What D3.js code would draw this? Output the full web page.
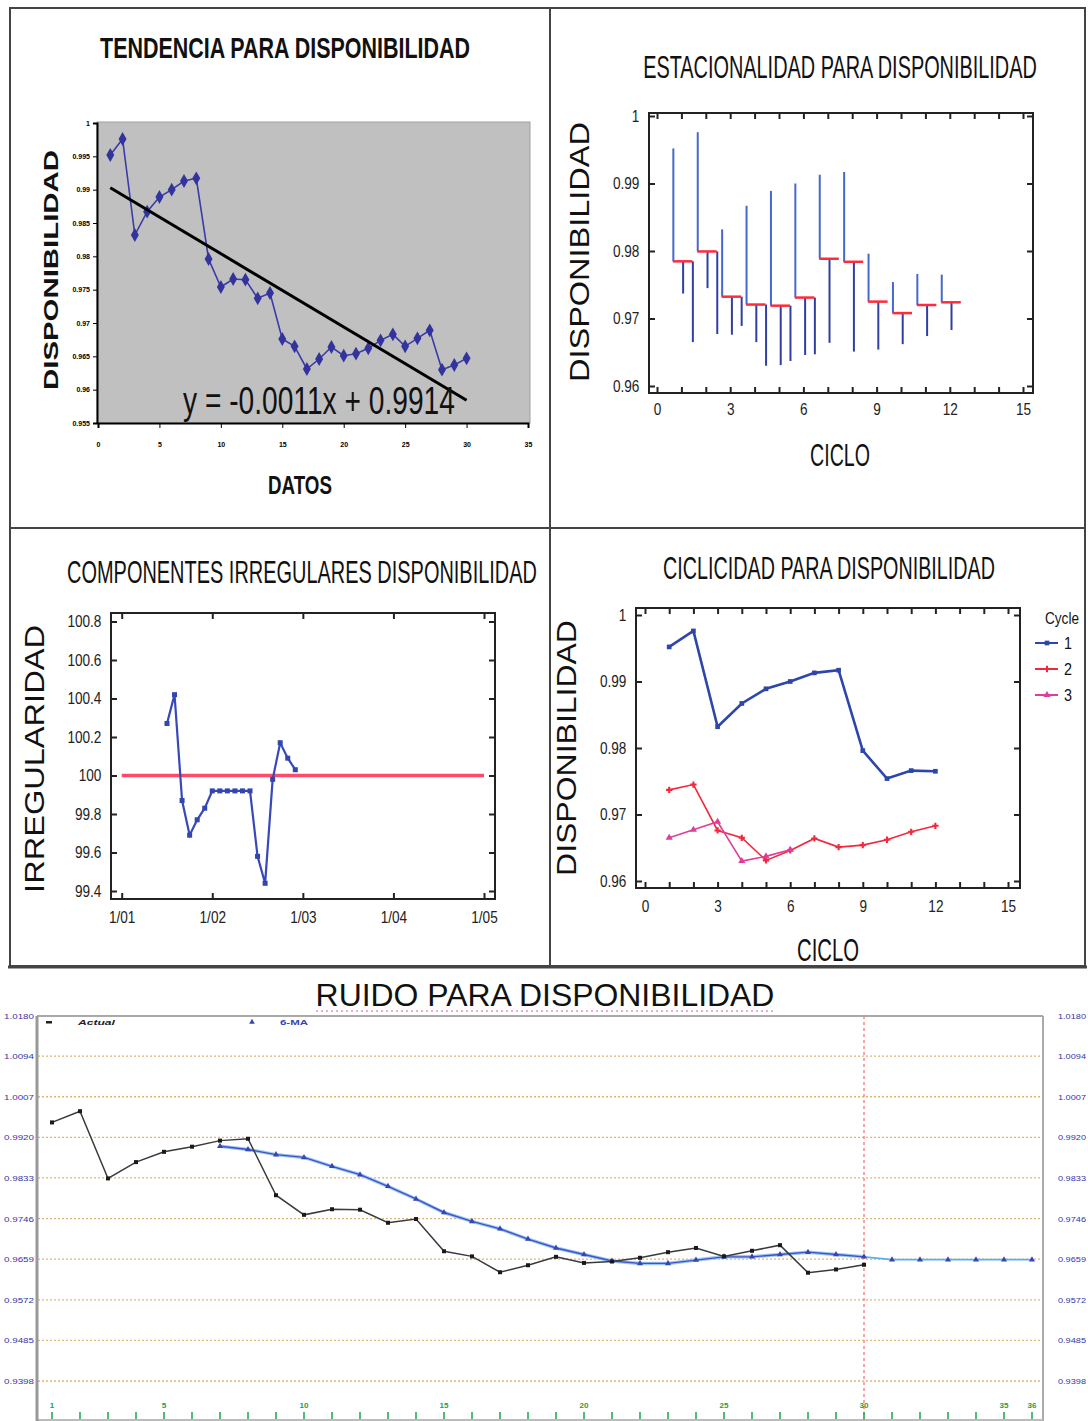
<!DOCTYPE html>
<html>
<head>
<meta charset="utf-8">
<script src="https://cdn.jsdelivr.net/npm/d3@7"></script>
<style>
  body { margin: 0; background: #fff; }
  svg { display: block; }
</style>
</head>
<body>
<script>
// ---------------- data ----------------
// disponibilidad mensual, 30 datos (3 ciclos de 12, el ultimo incompleto)
const disponibilidad = [0.9952, 0.9976, 0.9832, 0.9867, 0.9889, 0.9900, 0.9913, 0.9917, 0.9796, 0.9754, 0.9766, 0.9765,
                        0.9737, 0.9745, 0.9676, 0.9665, 0.9631, 0.9646, 0.9664, 0.9651, 0.9654, 0.9662, 0.9674, 0.9683,
                        0.9665, 0.9677, 0.9689, 0.9630, 0.9637, 0.9647]
const trendSlope = -0.0011
const trendIntercept = 0.9914
const tendYTicks = [1, 0.995, 0.99, 0.985, 0.98, 0.975, 0.97, 0.965, 0.96, 0.955]
const tendXTicks = [0, 5, 10, 15, 20, 25, 30, 35]

const cicloTicks = [0, 3, 6, 9, 12, 15]
const dispTicks = [0.96, 0.97, 0.98, 0.99, 1]
const cycleNames = ['1', '2', '3']
const cycleLen = 12

// componente irregular (meses 7..24)
const irregular = [100.27, 100.42, 99.87, 99.69, 99.77, 99.83, 99.92, 99.92, 99.92, 99.92, 99.92, 99.92,
                   99.58, 99.44, 99.98, 100.17, 100.09, 100.03]
const irregStartMonth = 7
const irregYTicks = [99.4, 99.6, 99.8, 100, 100.2, 100.4, 100.6, 100.8]
const irregXLabels = ['1/01', '1/02', '1/03', '1/04', '1/05']

// ruido: media movil de 6 (periodos 7..36, desde 31 es pronostico)
const ma6 = [0.9901, 0.9894, 0.9883, 0.9877, 0.9858, 0.9840, 0.9815, 0.9788, 0.9759, 0.9740, 0.9724, 0.9702,
             0.9683, 0.9669, 0.9655, 0.9650, 0.9650, 0.9657, 0.9664, 0.9664, 0.9669, 0.9674, 0.9669, 0.9664,
             0.9658, 0.9658, 0.9658, 0.9658, 0.9658, 0.9658]
const maStart = 7
const lastActual = 30
const ruidoYTicks = [1.0180, 1.0094, 1.0007, 0.9920, 0.9833, 0.9746, 0.9659, 0.9572, 0.9485, 0.9398]
const ruidoXLabels = [1, 5, 10, 15, 20, 25, 30, 35, 36]
const ruidoPeriods = d3.range(1, 37)

// ---------------- setup ----------------
const W = 1088, H = 1421
const FONT = '"Liberation Sans", Arial, sans-serif'
const svg = d3.select('body').append('svg').attr('width', W).attr('height', H)
  .attr('font-family', FONT)
svg.append('rect').attr('width', W).attr('height', H).attr('fill', '#fff')

// text squeezed to a given width (narrow look of the original)
function label(g, txt, x, y, size, len, o = {}) {
  let t = g.append('text').attr('font-size', size)
    .attr('text-anchor', o.anchor || 'middle').attr('fill', o.fill || '#111').text(txt)
  if (o.bold) t.attr('font-weight', 'bold')
  if (o.italic) t.attr('font-style', 'italic')
  let sx = len ? len / t.node().getComputedTextLength() : 1
  t.attr('transform', `translate(${x},${y})` + (o.rotate ? ' rotate(-90)' : '') + ` scale(${sx},1)`)
  return t
}

// boxed plot with ticks pointing inwards on all four sides
function boxAxes(g, box, x, y, o) {
  g.append('rect').attr('x', box.x0).attr('y', box.y0)
    .attr('width', box.x1 - box.x0).attr('height', box.y1 - box.y0)
    .attr('fill', 'none').attr('stroke', '#222').attr('stroke-width', 2)
  let axes = [
    g.append('g').attr('transform', `translate(0,${box.y1})`)
      .call(d3.axisBottom(x).tickValues(o.xTicks).tickSizeInner(-o.tick).tickSizeOuter(0).tickPadding(o.xPad).tickFormat(o.xFmt)),
    g.append('g').attr('transform', `translate(0,${box.y0})`)
      .call(d3.axisTop(x).tickValues(o.xTicks).tickSizeInner(-o.tick).tickSizeOuter(0).tickFormat('')),
    g.append('g').attr('transform', `translate(${box.x0},0)`)
      .call(d3.axisLeft(y).tickValues(o.yTicks).tickSizeInner(-o.tick).tickSizeOuter(0).tickPadding(o.yPad).tickFormat(o.yFmt)),
    g.append('g').attr('transform', `translate(${box.x1},0)`)
      .call(d3.axisRight(y).tickValues(o.yTicks).tickSizeInner(-o.tick).tickSizeOuter(0).tickFormat(''))
  ]
  axes.forEach(a => {
    a.attr('font-family', FONT).attr('font-size', o.fs)
    a.select('.domain').remove()
    a.selectAll('.tick line').attr('stroke', '#222').attr('stroke-width', 2)
    a.selectAll('.tick text').attr('fill', '#222').attr('transform', 'scale(0.8,1)')
  })
}

// ---------------- outer frame ----------------
const frame = svg.append('g').attr('stroke', '#444').attr('fill', 'none')
frame.append('rect').attr('x', 10).attr('y', 8).attr('width', 1075).attr('height', 958).attr('stroke-width', 2)
frame.append('line').attr('x1', 10).attr('x2', 1085).attr('y1', 528).attr('y2', 528).attr('stroke-width', 2)
frame.append('line').attr('x1', 550).attr('x2', 550).attr('y1', 8).attr('y2', 966).attr('stroke-width', 2)
frame.append('line').attr('x1', 8).attr('x2', 1087).attr('y1', 967).attr('y2', 967).attr('stroke-width', 3)

// ---------------- tendencia ----------------
const tl = svg.append('g')
const xTL = d3.scaleLinear().domain([0, 35]).range([98, 528])
const yTL = d3.scaleLinear().domain([0.955, 1]).range([423, 123])
tl.append('rect').attr('x', 97).attr('y', 122).attr('width', 433).attr('height', 301)
  .attr('fill', '#c0c0c0').attr('stroke', '#a0a0a0')
let ayTL = tl.append('g').attr('transform', 'translate(97,0)')
  .call(d3.axisLeft(yTL).tickValues(tendYTicks).tickSize(4).tickPadding(3).tickFormat(d => String(d)))
let axTL = tl.append('g').attr('transform', 'translate(0,423)')
  .call(d3.axisBottom(xTL).tickValues(tendXTicks).tickSize(5).tickPadding(14))
;[ayTL, axTL].forEach(a => {
  a.attr('font-size', 7).attr('font-weight', 'bold').attr('font-family', FONT)
  a.select('.domain').attr('stroke', '#000').attr('stroke-width', 2)
  a.selectAll('.tick line').attr('stroke', '#000')
})
const xs = disponibilidad.map((d, i) => i + 1)
tl.append('path').datum(disponibilidad)
  .attr('fill', 'none').attr('stroke', '#3a3aa8').attr('stroke-width', 1.6)
  .attr('d', d3.line().x((d, i) => xTL(xs[i])).y(d => yTL(d)))
tl.selectAll('.dia').data(disponibilidad).enter().append('path')
  .attr('transform', (d, i) => `translate(${xTL(xs[i])},${yTL(d)})`)
  .attr('d', d3.symbol(d3.symbolDiamond, 55)).attr('fill', '#33339e')
tl.append('line')
  .attr('x1', xTL(1)).attr('y1', yTL(trendIntercept + trendSlope * 1))
  .attr('x2', xTL(30)).attr('y2', yTL(trendIntercept + trendSlope * 30))
  .attr('stroke', '#000').attr('stroke-width', 3)
label(tl, `y = ${trendSlope}x + ${trendIntercept}`, 183, 414, 38, 272, { anchor: 'start' })
label(tl, 'TENDENCIA PARA DISPONIBILIDAD', 285, 58, 30, 370, { bold: true })
label(tl, 'DISPONIBILIDAD', 58, 270, 20, 240, { bold: true, rotate: true })
label(tl, 'DATOS', 300, 494, 26, 64, { bold: true })

// ---------------- estacionalidad ----------------
const tr = svg.append('g')
const xTR = d3.scaleLinear().domain([0, 15]).range([657, 1023])
const yTR = d3.scaleLinear().domain([0.96, 1]).range([386, 116])
const cycles = cycleNames.map((c, k) => disponibilidad.slice(k * cycleLen, (k + 1) * cycleLen))
boxAxes(tr, { x0: 649, x1: 1033, y0: 113, y1: 393 }, xTR, yTR, {
  xTicks: d3.range(0, 16), yTicks: dispTicks, tick: 6, fs: 17, xPad: 10, yPad: 12,
  xFmt: d => cicloTicks.includes(d) ? d : '', yFmt: d => d === 1 ? '1' : d.toFixed(2)
})
const periods = d3.range(1, cycleLen + 1).map(p => {
  let vals = cycles.map(c => c[p - 1]).filter(v => v !== undefined)
  return { p, vals, mean: d3.mean(vals) }
})
periods.forEach(s => {
  s.vals.forEach((v, k) => {
    tr.append('line')
      .attr('x1', xTR(s.p - 0.33 + 0.4 * k)).attr('x2', xTR(s.p - 0.33 + 0.4 * k))
      .attr('y1', yTR(s.mean)).attr('y2', yTR(v))
      .attr('stroke', k === 0 ? '#4668c8' : '#2f3fa2').attr('stroke-width', 2)
  })
  tr.append('line').attr('x1', xTR(s.p - 0.35)).attr('x2', xTR(s.p + 0.45))
    .attr('y1', yTR(s.mean)).attr('y2', yTR(s.mean))
    .attr('stroke', '#ff2a3c').attr('stroke-width', 2.5)
})
label(tr, 'ESTACIONALIDAD PARA DISPONIBILIDAD', 840, 78, 32, 394)
label(tr, 'DISPONIBILIDAD', 589, 252, 27, 260, { rotate: true })
label(tr, 'CICLO', 840, 466, 32, 60)

// ---------------- componentes irregulares ----------------
const bl = svg.append('g')
const xBL = d3.scaleLinear().domain([0, 4]).range([121.7, 484])
const yBL = d3.scaleLinear().domain([99.4, 100.8]).range([891, 621.5])
boxAxes(bl, { x0: 111, x1: 495, y0: 613, y1: 899 }, xBL, yBL, {
  xTicks: d3.range(0, 5), yTicks: irregYTicks, tick: 6, fs: 17, xPad: 12, yPad: 12,
  xFmt: d => irregXLabels[d], yFmt: d => d === 100 ? '100' : d.toFixed(1)
})
bl.append('line').attr('x1', xBL(0)).attr('x2', xBL(4)).attr('y1', yBL(100)).attr('y2', yBL(100))
  .attr('stroke', '#ff4a6a').attr('stroke-width', 3.5)
const irrX = (d, i) => xBL((irregStartMonth - 1 + i) / 12)
bl.append('path').datum(irregular)
  .attr('fill', 'none').attr('stroke', '#3848b8').attr('stroke-width', 2.2)
  .attr('d', d3.line().x(irrX).y(d => yBL(d)))
bl.selectAll('.sq').data(irregular).enter().append('rect')
  .attr('x', (d, i) => irrX(d, i) - 2.5).attr('y', d => yBL(d) - 2.5)
  .attr('width', 5).attr('height', 5).attr('fill', '#3346b0')
label(bl, 'COMPONENTES IRREGULARES DISPONIBILIDAD', 302, 583, 32, 470)
label(bl, 'IRREGULARIDAD', 44, 759, 27, 268, { rotate: true })

// ---------------- ciclicidad ----------------
const br = svg.append('g')
const xBR = d3.scaleLinear().domain([0, 15]).range([645, 1008])
const yBR = d3.scaleLinear().domain([0.96, 1]).range([881, 615])
boxAxes(br, { x0: 636, x1: 1020, y0: 608, y1: 888 }, xBR, yBR, {
  xTicks: d3.range(0, 16), yTicks: dispTicks, tick: 6, fs: 17, xPad: 12, yPad: 12,
  xFmt: d => cicloTicks.includes(d) ? d : '', yFmt: d => d === 1 ? '1' : d.toFixed(2)
})
const cycleColors = ['#2e46aa', '#f2283c', '#e03d9a']
const cycleWidths = [2.6, 1.6, 1.6]
const cycleSymbols = [d3.symbolSquare, d3.symbolCross, d3.symbolTriangle]
cycles.forEach((c, k) => {
  br.append('path').datum(c)
    .attr('fill', 'none').attr('stroke', cycleColors[k]).attr('stroke-width', cycleWidths[k])
    .attr('d', d3.line().x((d, i) => xBR(i + 1)).y(d => yBR(d)))
  br.selectAll('.m' + k).data(c).enter().append('path')
    .attr('transform', (d, i) => `translate(${xBR(i + 1)},${yBR(d)})`)
    .attr('d', d3.symbol(cycleSymbols[k], 22)).attr('fill', cycleColors[k])
})
label(br, 'Cycle', 1062, 624, 17, 34)
cycleNames.forEach((n, k) => {
  let yy = 643 + k * 26
  br.append('line').attr('x1', 1035).attr('x2', 1058).attr('y1', yy).attr('y2', yy)
    .attr('stroke', cycleColors[k]).attr('stroke-width', 2)
  br.append('path').attr('transform', `translate(1047,${yy})`)
    .attr('d', d3.symbol(cycleSymbols[k], 22)).attr('fill', cycleColors[k])
  label(br, n, 1064, yy + 6, 17, 8, { anchor: 'start' })
})
label(br, 'CICLICIDAD PARA DISPONIBILIDAD', 829, 579, 32, 332)
label(br, 'DISPONIBILIDAD', 576, 748, 27, 256, { rotate: true })
label(br, 'CICLO', 828, 961, 32, 62)

// ---------------- ruido ----------------
const rb = svg.append('g')
const xR = d3.scaleLinear().domain([1, 36]).range([52, 1032])
const yR = d3.scaleLinear().domain([ruidoYTicks[0], ruidoYTicks[9]]).range([1016, 1381])
label(rb, 'RUIDO PARA DISPONIBILIDAD', 545, 1006, 32, 459)
rb.append('line').attr('x1', 316).attr('x2', 775).attr('y1', 1011).attr('y2', 1011)
  .attr('stroke', '#e060a8').attr('stroke-width', 1.5).attr('stroke-dasharray', '2,3').attr('opacity', 0.7)

// grid
ruidoYTicks.slice(1).forEach(v => {
  rb.append('line').attr('x1', 38).attr('x2', 1042).attr('y1', yR(v)).attr('y2', yR(v))
    .attr('stroke', '#c9c46a').attr('stroke-width', 1.3).attr('stroke-dasharray', '2,6')
  rb.append('line').attr('x1', 38).attr('x2', 1042).attr('y1', yR(v)).attr('y2', yR(v))
    .attr('stroke', '#f2a585').attr('stroke-width', 1.3).attr('stroke-dasharray', '2,6').attr('stroke-dashoffset', 4)
})
ruidoYTicks.forEach(v => {
  label(rb, v.toFixed(4), 34, yR(v) + 3, 7.5, 30, { anchor: 'end', fill: '#3535a8' })
  label(rb, v.toFixed(4), 1058, yR(v) + 3, 7.5, 28, { anchor: 'start', fill: '#3535a8' })
})
// frame
rb.append('line').attr('x1', 37).attr('x2', 1043).attr('y1', 1016).attr('y2', 1016).attr('stroke', '#aaa').attr('stroke-width', 2)
rb.append('line').attr('x1', 1043).attr('x2', 1043).attr('y1', 1016).attr('y2', H).attr('stroke', '#aaa').attr('stroke-width', 2)
rb.append('line').attr('x1', 37).attr('x2', 1043).attr('y1', 1420).attr('y2', 1420).attr('stroke', '#bbb').attr('stroke-width', 2)
rb.append('line').attr('x1', 37).attr('x2', 37).attr('y1', 1016).attr('y2', H).attr('stroke', '#999').attr('stroke-width', 3)
// forecast divider
rb.append('line').attr('x1', xR(lastActual)).attr('x2', xR(lastActual)).attr('y1', 1016).attr('y2', H)
  .attr('stroke', '#f08a8a').attr('stroke-width', 1.5).attr('stroke-dasharray', '3,3')
// x ticks
ruidoPeriods.forEach(n => {
  rb.append('line').attr('x1', xR(n)).attr('x2', xR(n)).attr('y1', 1412).attr('y2', 1419)
    .attr('stroke', '#20a04c').attr('stroke-width', 1.5)
})
ruidoXLabels.forEach(n => {
  label(rb, n, xR(n), 1408, 8, null, { bold: true, fill: '#20a04c' })
})
// moving average
const maX = (d, i) => xR(maStart + i)
const maPast = ma6.slice(0, lastActual - maStart + 1)
const maFut = ma6.slice(lastActual - maStart)
rb.append('path').datum(maPast).attr('fill', 'none').attr('stroke', '#9cc8f0').attr('stroke-width', 3.5)
  .attr('d', d3.line().x(maX).y(d => yR(d)))
rb.append('path').datum(maPast).attr('fill', 'none').attr('stroke', '#3f52c8').attr('stroke-width', 1.4)
  .attr('d', d3.line().x(maX).y(d => yR(d)))
rb.append('path').datum(maFut).attr('fill', 'none').attr('stroke', '#5cb0ea').attr('stroke-width', 1.8)
  .attr('d', d3.line().x((d, i) => xR(lastActual + i)).y(d => yR(d)))
rb.selectAll('.ma').data(ma6).enter().append('path')
  .attr('transform', (d, i) => `translate(${maX(d, i)},${yR(d)})`)
  .attr('d', d3.symbol(d3.symbolTriangle, 16)).attr('fill', '#3545b5')
// actual
rb.append('path').datum(disponibilidad).attr('fill', 'none').attr('stroke', '#3a3a3a').attr('stroke-width', 1.5)
  .attr('d', d3.line().x((d, i) => xR(i + 1)).y(d => yR(d)))
rb.selectAll('.act').data(disponibilidad).enter().append('rect')
  .attr('x', (d, i) => xR(i + 1) - 2).attr('y', d => yR(d) - 2)
  .attr('width', 4).attr('height', 4).attr('fill', '#1a1a1a')
// legend
rb.append('rect').attr('x', 46).attr('y', 1021).attr('width', 6).attr('height', 2.5).attr('fill', '#222')
label(rb, 'Actual', 78, 1025, 8, 37, { anchor: 'start', bold: true, italic: true, fill: '#222' })
rb.append('path').attr('transform', 'translate(252,1022)').attr('d', d3.symbol(d3.symbolTriangle, 14)).attr('fill', '#3545b5')
label(rb, '6-MA', 280, 1025, 8, 28, { anchor: 'start', bold: true, fill: '#3545b5' })
</script>
</body>
</html>
